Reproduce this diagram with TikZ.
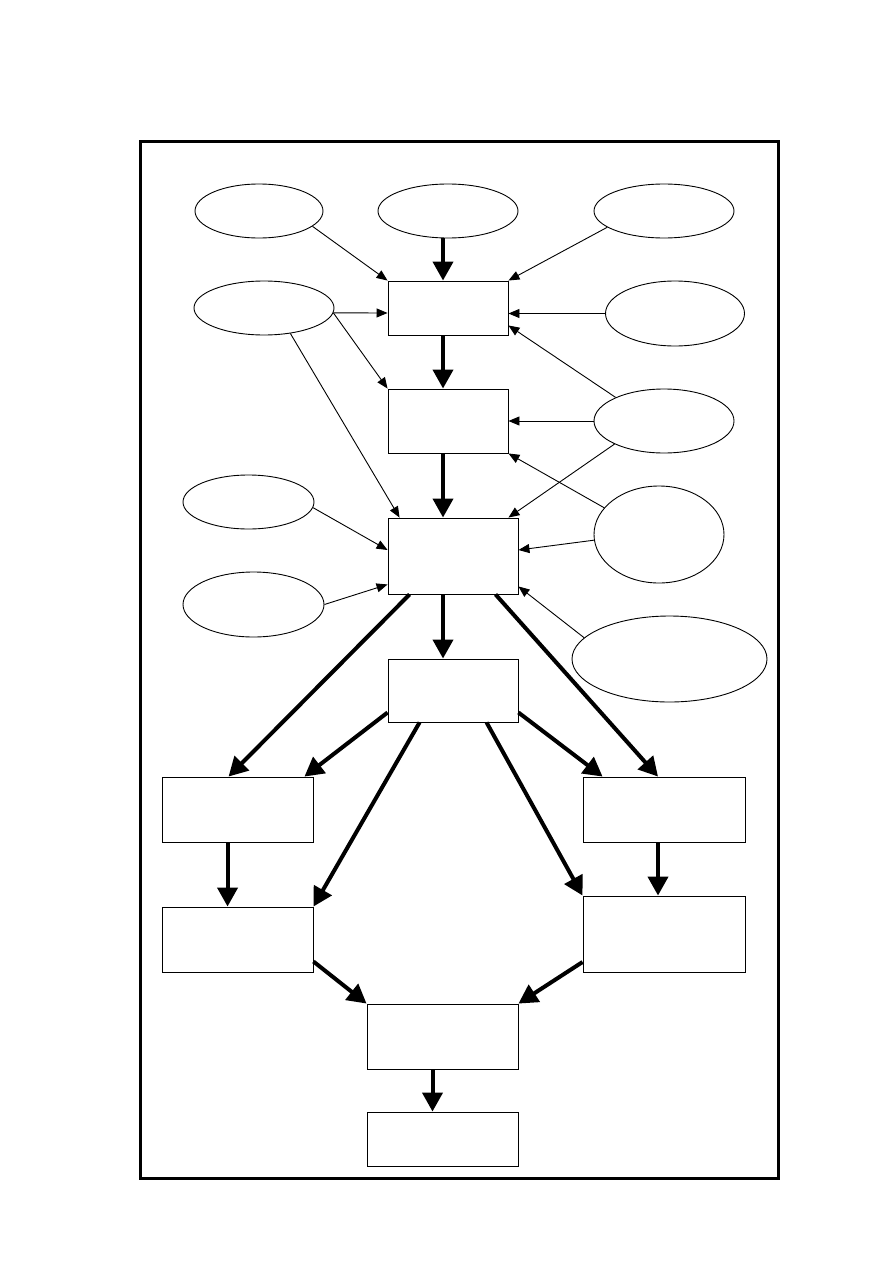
\documentclass[tikz,border=0pt]{standalone}
\usetikzlibrary{arrows.meta,shapes.geometric,calc}
\begin{document}
\begin{tikzpicture}[x=1pt,y=-1pt,
  box/.style={draw,line width=0.9pt,rectangle,inner sep=0pt,fill=white},
  oval/.style={draw,line width=0.9pt,ellipse,inner sep=0pt},
  thin/.style={line width=0.9pt,-{Triangle[length=11pt,width=9pt]}},
  thick/.style={line width=4pt,-{Triangle[length=19pt,width=20pt]}}]
\useasboundingbox (0,0) rectangle (893,1263);
\draw[line width=3pt] (140,141) rectangle (778,1178);
% boxes
\node[box,minimum width=120pt,minimum height=54pt] (b1) at (448,308) {};
\node[box,minimum width=120pt,minimum height=64pt] (b2) at (448,421) {};
\node[box,minimum width=130pt,minimum height=76pt] (b3) at (453,556) {};
\node[box,minimum width=130pt,minimum height=63pt] (b4) at (453,690.5) {};
\node[box,minimum width=151pt,minimum height=65pt] (b5) at (237.5,809.5) {};
\node[box,minimum width=162pt,minimum height=65pt] (b6) at (664,809.5) {};
\node[box,minimum width=151pt,minimum height=65pt] (b7) at (237.5,939.5) {};
\node[box,minimum width=162pt,minimum height=76pt] (b8) at (664,934) {};
\node[box,minimum width=151pt,minimum height=65pt] (b9) at (442.5,1036.5) {};
\node[box,minimum width=151pt,minimum height=54pt] (b10) at (442.5,1139) {};
% ellipses
\node[oval,minimum width=128pt,minimum height=54pt] (e1) at (259,211) {};
\node[oval,minimum width=140pt,minimum height=54pt] (e2) at (448,211) {};
\node[oval,minimum width=140pt,minimum height=54pt] (e3) at (664,211) {};
\node[oval,minimum width=140pt,minimum height=54pt] (e4) at (264,308) {};
\node[oval,minimum width=139pt,minimum height=65pt] (e5) at (675,313.5) {};
\node[oval,minimum width=140pt,minimum height=64pt] (e6) at (664,421) {};
\node[oval,minimum width=130pt,minimum height=97pt] (e7) at (659,534.5) {};
\node[oval,minimum width=195pt,minimum height=86pt] (e8) at (669.5,659) {};
\node[oval,minimum width=131pt,minimum height=54pt] (e9) at (248.5,502) {};
\node[oval,minimum width=141pt,minimum height=65pt] (e10) at (253.5,604.5) {};
% thin arrows
\draw[thin] (e1.-16) -- (b1.north west);
\draw[thin] (e3.196) -- (b1.north east);
\draw[thin] (e4.-4) -- ($(b1.west)+(0,5)$);
\draw[thin] (e5.west) -- ($(b1.east)+(0,5.5)$);
\draw[thin] (e6.154) -- ($(b1.south east)+(0,-10)$);
\draw[thin] (e4.-4) -- (b2.north west);
\draw[thin] (e4.-44) -- ($(b3.north west)+(12,0)$);
\draw[thin] (e6.west) -- (b2.east);
\draw[thin] (e6.205) -- ($(b3.north east)+(-10,0)$);
\draw[thin] (e7.154) -- (b2.south east);
\draw[thin] (e7.185) -- ($(b3.east)+(0,-6)$);
\draw[thin] (e8.166) -- ($(b3.south east)+(0,-8)$);
\draw[thin] (e9.-5) -- ($(b3.west)+(0,-6)$);
\draw[thin] (e10.east) -- ($(b3.south west)+(0,-10)$);
% thick arrows
\draw[thick] ($(e2.south)+(-5,0)$) -- ($(b1.north)+(-5,0)$);
\draw[thick] ($(b1.south)+(-5,0)$) -- ($(b2.north)+(-5,0)$);
\draw[thick] ($(b2.south)+(-5,0)$) -- ($(b3.north)+(-10,0)$);
\draw[thick] ($(b3.south)+(-10,0)$) -- ($(b4.north)+(-10,0)$);
\draw[thick] ($(b3.south west)+(22,0)$) -- ($(b5.north west)+(67,0)$);
\draw[thick] ($(b4.west)+(0,22)$) -- ($(b5.north east)+(-9,0)$);
\draw[thick] ($(b4.south west)+(32,0)$) -- (b7.north east);
\draw[thick] ($(b4.south west)+(99,0)$) -- (b8.north west);
\draw[thick] ($(b4.east)+(0,22)$) -- ($(b6.north west)+(20,0)$);
\draw[thick] ($(b3.south west)+(108,0)$) -- ($(b6.north)+(-6,0)$);
\draw[thick] ($(b5.south west)+(66,0)$) -- ($(b7.north west)+(66,0)$);
\draw[thick] ($(b6.south)+(-6,0)$) -- ($(b8.north)+(-6,0)$);
\draw[thick] ($(b7.east)+(0,22)$) -- (b9.north west);
\draw[thick] ($(b8.west)+(0,28)$) -- (b9.north east);
\draw[thick] ($(b9.south)+(-10,0)$) -- ($(b10.north)+(-10,0)$);
\end{tikzpicture}
\end{document}
